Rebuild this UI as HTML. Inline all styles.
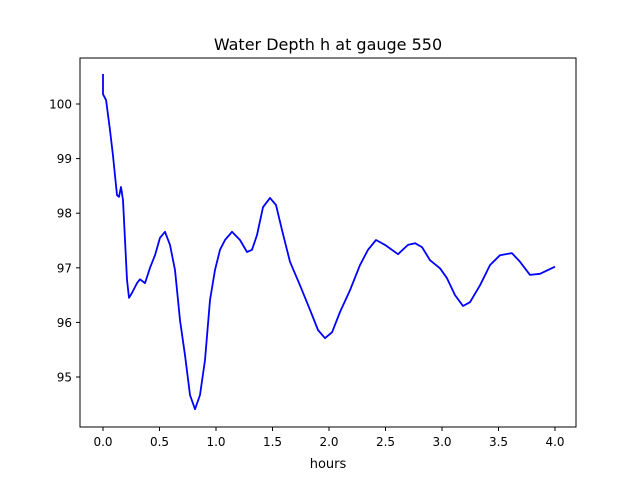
<!DOCTYPE html>
<html><head><meta charset="utf-8"><style>
body{margin:0;background:#fff;font-family:"Liberation Sans","DejaVu Sans",sans-serif}
svg text{font-family:"DejaVu Sans","Liberation Sans",sans-serif}
</style></head><body>
<svg id="chart" width="640" height="480" xmlns="http://www.w3.org/2000/svg">
<rect width="640" height="480" fill="#fff"/>
<text x="328" y="50" font-size="16" text-anchor="middle">Water Depth h at gauge 550</text>
<text x="328" y="468" font-size="13" text-anchor="middle">hours</text>
<g id="ticks"></g>
<path id="line" fill="none" stroke="#0000ff" stroke-width="1.8" stroke-linejoin="round"/>
<rect x="80" y="58" width="496" height="369" fill="none" stroke="#000" stroke-width="1"/>
</svg>
<script>
const hours=[0,0,0.027,0.062,0.088,0.124,0.142,0.159,0.177,0.195,0.212,0.230,0.257,0.301,0.327,0.372,0.416,0.460,0.504,0.549,0.593,0.637,0.681,0.726,0.770,0.814,0.858,0.903,0.947,0.991,1.035,1.080,1.142,1.212,1.274,1.319,1.363,1.416,1.478,1.531,1.584,1.655,1.743,1.832,1.903,1.965,2.027,2.097,2.186,2.274,2.345,2.416,2.496,2.611,2.699,2.761,2.823,2.894,2.982,3.044,3.115,3.186,3.248,3.336,3.425,3.513,3.619,3.690,3.779,3.867,4.0];
const depth=[100.55,100.18,100.07,99.52,99.07,98.33,98.30,98.48,98.24,97.51,96.78,96.45,96.54,96.72,96.79,96.72,97.0,97.23,97.55,97.66,97.42,96.96,96.04,95.40,94.67,94.41,94.67,95.31,96.41,96.96,97.33,97.51,97.66,97.51,97.29,97.33,97.60,98.11,98.28,98.15,97.69,97.11,96.68,96.23,95.86,95.71,95.82,96.19,96.59,97.05,97.33,97.51,97.42,97.25,97.42,97.45,97.38,97.14,96.99,96.81,96.50,96.30,96.37,96.68,97.05,97.23,97.27,97.11,96.87,96.89,97.02];
const xTicks=[0,0.5,1,1.5,2,2.5,3,3.5,4];
const xTickLabels=["0.0","0.5","1.0","1.5","2.0","2.5","3.0","3.5","4.0"];
const yTicks=[95,96,97,98,99,100];
const yTickLabels=["95","96","97","98","99","100"];
const X=t=>103+t*113, Y=v=>104+(100-v)*54.6;
const NS="http://www.w3.org/2000/svg";
const g=document.getElementById('ticks');
function mk(tag,attrs,txt){const e=document.createElementNS(NS,tag);for(const k in attrs)e.setAttribute(k,attrs[k]);if(txt!==undefined)e.textContent=txt;g.appendChild(e);return e;}
xTicks.forEach((t,i)=>{
 const l=mk('line',{x1:X(t),x2:X(t),y1:427,y2:431,stroke:'#000'});
 
 
 const s=mk('text',{x:X(t),y:446,'font-size':12,'text-anchor':'middle'},xTickLabels[i]);
 
 
});
yTicks.forEach((v,i)=>{
 const l=mk('line',{x1:76,x2:80,y1:Y(v),y2:Y(v),stroke:'#000'});
 
 
 const s=mk('text',{x:72,y:Y(v)+4.5,'font-size':12,'text-anchor':'end'},yTickLabels[i]);
 
 
});
document.getElementById('line').setAttribute('d',hours.map((t,i)=>(i?'L':'M')+X(t).toFixed(1)+','+Y(depth[i]).toFixed(1)).join(''));
</script>
</body></html>
